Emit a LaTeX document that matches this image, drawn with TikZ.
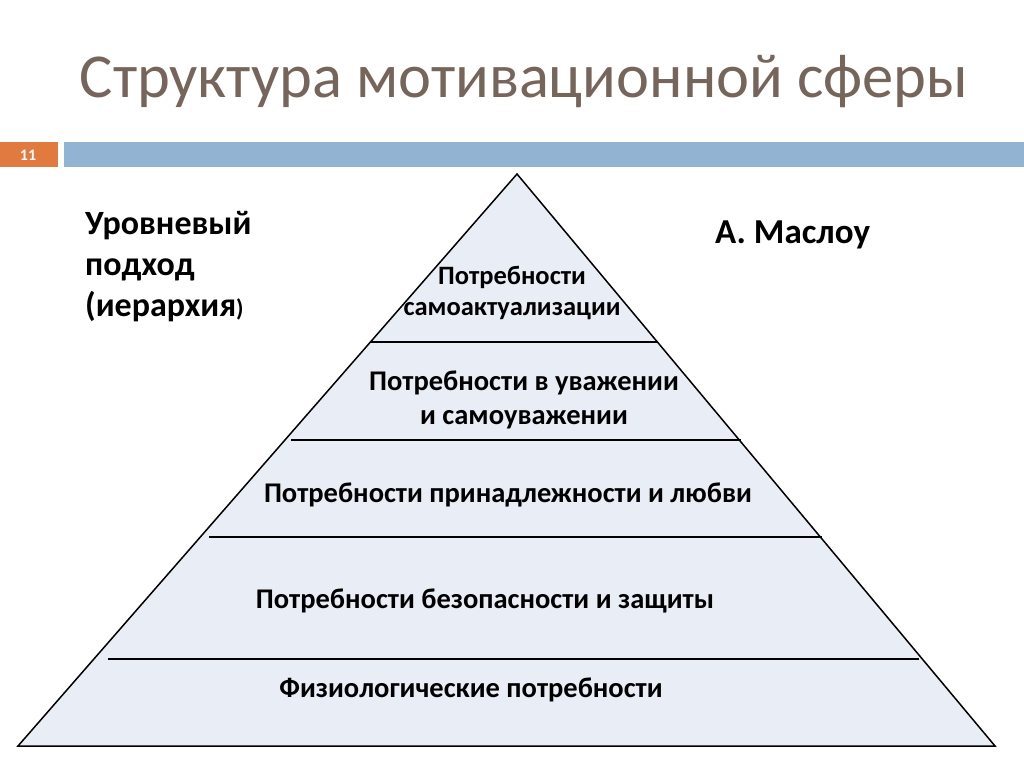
\documentclass[tikz,border=0pt]{standalone}
\usepackage{fontspec}
\setmainfont{Carlito}
\definecolor{titlec}{HTML}{76655B}
\definecolor{orangec}{HTML}{E07A3E}
\definecolor{bluec}{HTML}{93B3D3}
\definecolor{layerc}{HTML}{E9EDF5}
\tikzset{
  lbl/.style={font=\bfseries\fontsize{28.5}{34}\selectfont, align=center, inner sep=0pt, anchor=center},
  side/.style={font=\bfseries\fontsize{34}{41}\selectfont, align=left, inner sep=0pt},
  divider/.style={line width=1.3pt, draw=black}
}
\begin{document}
\begin{tikzpicture}[x=1pt,y=-1pt]
\useasboundingbox (0,0) rectangle (1024,767);
\fill[white] (0,0) rectangle (1024,767);
% title
\node[font=\fontsize{62.5}{70}\selectfont, text=titlec, inner sep=0pt] (title) at (524,82) {Структура мотивационной сферы};
% header bars
\fill[orangec] (0,142) rectangle (58,167);
\node[font=\bfseries\fontsize{16}{18}\selectfont, text=white, inner sep=0pt] (num) at (28,155) {11};
\fill[bluec] (64,142) rectangle (1024,167);
% pyramid
\coordinate (apex) at (517,174);
\coordinate (bl) at (18,746);
\coordinate (br) at (995,746);
\fill[layerc] (apex) -- (bl) -- (br) -- cycle;
\draw[divider] (371,342) -- (658,342);
\draw[divider] (291,440) -- (741,440);
\draw[divider] (209,537) -- (822,537);
\draw[divider] (108,659) -- (919,659);
\draw[line width=1.5pt, line join=miter] (apex) -- (bl) -- (br) -- cycle;
% labels
\node[lbl, font=\bfseries\fontsize{26.5}{31}\selectfont] (l1) at (512,293) {Потребности\\самоактуализации};
\node[lbl] (l2) at (524,400) {Потребности в уважении\\и самоуважении};
\node[lbl] (l3) at (508,495) {Потребности принадлежности и любви};
\node[lbl] (l4) at (485,601) {Потребности безопасности и защиты};
\node[lbl] (l5) at (471,690) {Физиологические потребности};
% side texts
\node[side, anchor=north west] (left) at (85,211) {Уровневый\\подход\\(иерархия{\fontsize{24}{24}\selectfont)}};
\node[font=\bfseries\fontsize{35}{40}\selectfont, inner sep=0pt, anchor=west] (maslow) at (715,235) {А. Маслоу};
\end{tikzpicture}
\end{document}
